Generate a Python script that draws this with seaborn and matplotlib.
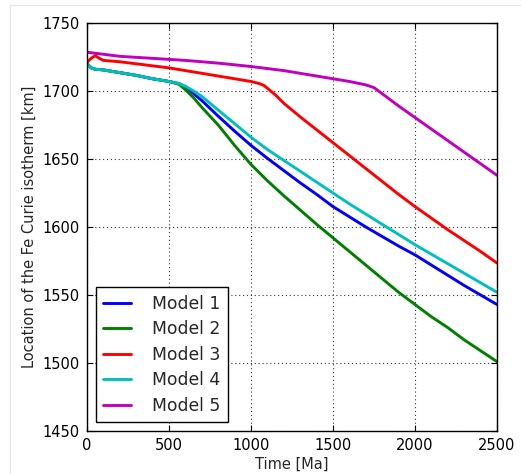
import numpy as np
import pandas as pd
import matplotlib
matplotlib.use("Agg")
import matplotlib.pyplot as plt
from matplotlib.lines import Line2D
import seaborn as sns

# Time axis points [Ma] for each model run
t_m1 = [0, 25, 50, 100, 200, 300, 400, 500, 560, 600, 650, 700, 800, 900, 1000,
        1100, 1200, 1300, 1400, 1500, 1600, 1700, 1800, 1900, 2000, 2100, 2200,
        2300, 2400, 2500]
d_m1 = [1720, 1717, 1716, 1715.5, 1713.5, 1711.5, 1709, 1707, 1705.5, 1703, 1698,
        1693, 1681.5, 1670.5, 1660, 1650.5, 1641.5, 1632.5, 1624, 1615, 1607.5,
        1600, 1593, 1586, 1579.5, 1572, 1564.5, 1557, 1550, 1543]

t_m2 = [0, 25, 50, 100, 200, 300, 400, 500, 560, 600, 650, 700, 800, 900, 1000,
        1100, 1200, 1300, 1400, 1500, 1600, 1700, 1800, 1900, 2000, 2100, 2200,
        2300, 2400, 2500]
d_m2 = [1720, 1717, 1716, 1715.5, 1713.5, 1711.5, 1709, 1707, 1705, 1701, 1695,
        1688, 1675, 1660, 1646, 1634, 1623, 1612.5, 1602, 1592, 1582, 1572, 1562,
        1552, 1543, 1534, 1526, 1517, 1509, 1501]

t_m3 = [0, 25, 50, 75, 100, 200, 300, 400, 500, 600, 700, 800, 900, 1000, 1050,
        1080, 1100, 1150, 1200, 1300, 1400, 1500, 1600, 1700, 1800, 1900, 2000,
        2100, 2200, 2300, 2400, 2500]
d_m3 = [1721, 1724, 1726, 1724, 1722.5, 1721.5, 1720, 1718.5, 1717, 1715, 1713,
        1711, 1709, 1707, 1705.5, 1704, 1702, 1697, 1691, 1681, 1671.5, 1662,
        1652.5, 1643, 1633.5, 1624, 1615, 1606.5, 1598, 1590, 1582, 1573.5]

t_m4 = [0, 25, 50, 100, 200, 300, 400, 500, 560, 600, 650, 700, 800, 900, 1000,
        1100, 1200, 1300, 1400, 1500, 1600, 1700, 1800, 1900, 2000, 2100, 2200,
        2300, 2400, 2500]
d_m4 = [1720, 1717, 1716, 1715.5, 1713.5, 1711.5, 1709, 1707, 1705.5, 1703.5, 1700,
        1696, 1686, 1676, 1666, 1657, 1649, 1641, 1633, 1625, 1617, 1609.5,
        1602, 1594.5, 1587, 1580, 1573, 1566, 1559, 1552]

t_m5 = [0, 100, 200, 400, 600, 800, 1000, 1200, 1400, 1500, 1600, 1700, 1750,
        1800, 1900, 2000, 2100, 2200, 2300, 2400, 2500]
d_m5 = [1728.5, 1727, 1725.5, 1724, 1722.5, 1720.5, 1718, 1715, 1711, 1709, 1707,
        1704.5, 1702.5, 1698, 1689, 1680.5, 1672, 1663.5, 1655, 1646.5, 1638]

model_names = ["Model 1", "Model 2", "Model 3", "Model 4", "Model 5"]
model_colors = ["#0000ff", "#007f00", "#ff0000", "#00bfbf", "#bf00bf"]

x_ticks = [0, 500, 1000, 1500, 2000, 2500]
y_ticks = [1450, 1500, 1550, 1600, 1650, 1700, 1750]

frames = []
for name, t, d in zip(model_names,
                      [t_m1, t_m2, t_m3, t_m4, t_m5],
                      [d_m1, d_m2, d_m3, d_m4, d_m5]):
    frames.append(pd.DataFrame({"Time": t, "Depth": d, "Model": name}))
df = pd.concat(frames, ignore_index=True)

sns.set_style("ticks")
plt.rcParams["font.family"] = ["DejaVu Sans"]

fig = plt.figure(figsize=(5.21, 4.74), dpi=100)
fig.patch.set_facecolor("white")
W, H = 521, 474
ax = fig.add_axes([87 / W, 1 - 431 / H, 410 / W, 408 / H])

sns.lineplot(data=df, x="Time", y="Depth", hue="Model", hue_order=model_names,
             palette=model_colors, linewidth=2.1, estimator=None, sort=False,
             ax=ax)

ax.set_xlim(0, 2500)
ax.set_ylim(1450, 1750)
ax.set_xticks(x_ticks)
ax.set_yticks(y_ticks)
ax.tick_params(direction="in", length=4, width=0.8, top=True, right=True,
               labelsize=10.5, pad=5, colors="black")
ax.grid(True, linestyle=(0, (1, 2.5)), color="#333333", linewidth=0.8)
for sp in ax.spines.values():
    sp.set_visible(True)
    sp.set_color("black")
    sp.set_linewidth(1.0)

ax.set_xlabel("Time [Ma]", fontsize=10.5, labelpad=3)
ax.set_ylabel("Location of the Fe Curie isotherm [km]", fontsize=10.5, labelpad=4)

handles, labels = ax.get_legend_handles_labels()
leg = ax.legend(handles, labels, loc="lower left", fontsize=12.4,
                handlelength=1.6, handletextpad=1.2, labelspacing=0.43,
                borderpad=0.45, fancybox=False, framealpha=1)
leg.get_frame().set_edgecolor("black")
leg.get_frame().set_linewidth(1.0)
for ln in leg.get_lines():
    ln.set_linewidth(2.1)

# light page border
fig.add_artist(Line2D([10 / W, 1], [1 - 5 / H, 1 - 5 / H], transform=fig.transFigure,
                      color="#e6e6e6", linewidth=1))
fig.add_artist(Line2D([10 / W, 10 / W], [0, 1 - 5 / H], transform=fig.transFigure,
                      color="#e6e6e6", linewidth=1))

fig.savefig("out.png", dpi=100, facecolor="white")
